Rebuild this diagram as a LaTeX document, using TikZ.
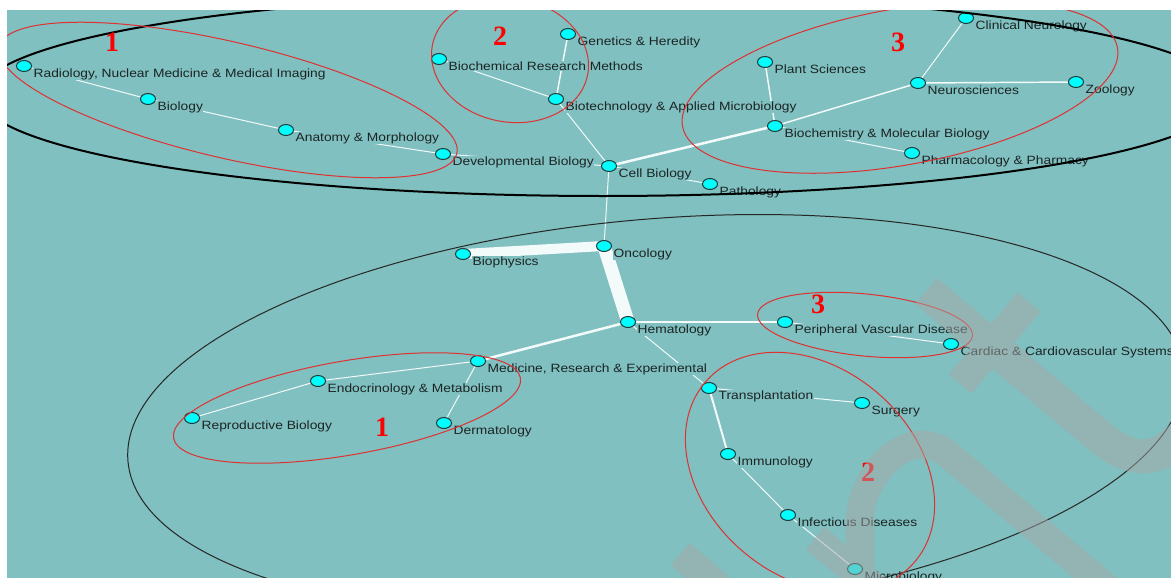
\documentclass[tikz,border=0pt]{standalone}
\usepackage{fontspec}
\setmainfont{Liberation Sans}
\newfontfamily\lblfont[FakeStretch=1.15]{Liberation Sans}
\newfontfamily\numfont{Liberation Serif}
\usetikzlibrary{shapes.geometric}

\definecolor{bgteal}{RGB}{128,192,192}
\definecolor{topicfill}{RGB}{0,255,255}
\definecolor{topicline}{RGB}{30,60,60}
\definecolor{labeltext}{RGB}{28,36,36}
\definecolor{ringred}{RGB}{224,48,48}
\definecolor{numred}{RGB}{255,0,0}
\definecolor{wmgray}{RGB}{168,168,168}
\definecolor{linkwhite}{RGB}{242,250,250}

\pgfdeclarelayer{back}
\pgfdeclarelayer{links}
\pgfsetlayers{back,links,main}

\tikzset{
  topic/.style={ellipse, draw=topicline, line width=0.75pt, fill=topicfill,
    minimum width=11.25pt, minimum height=8.25pt, inner sep=0pt},
  lbl/.style={anchor=base west, fill=bgteal, inner sep=0.3pt, text=labeltext,
    font=\lblfont\fontsize{9}{10}\selectfont},
  link/.style={draw=linkwhite, line width=0.75pt},
  num/.style={text=numred, inner sep=0pt,
    font=\numfont\bfseries\fontsize{21}{21}\selectfont},
  ring/.style={draw=ringred, line width=0.75pt},
  hull/.style={draw=black, line width=1.5pt}
}

\begin{document}
\begin{tikzpicture}[x=0.75pt, y=-0.75pt]
    \begin{pgfonlayer}{back}
        \fill[white] (0,0) rectangle (1171,578);
        \fill[bgteal] (7,10) rectangle (1171,578);
    \end{pgfonlayer}
    \useasboundingbox (0,0) rectangle (1171,578);

    \begin{scope}
    \clip (7,10) rectangle (1171,578);

    % Upper group
    \node (radiology) [topic] at (24,66) {};
    \node (biology) [topic] at (148,99) {};
    \node (anatomy) [topic] at (286,130) {};
    \node (develop) [topic] at (443,154) {};
    \node (biochemres) [topic] at (439,59) {};
    \node (genetics) [topic] at (568,34) {};
    \node (biotech) [topic] at (556,99) {};
    \node (cellbio) [topic] at (609,166) {};
    \node (pathology) [topic] at (710,184) {};
    \node (plantsci) [topic] at (765,62) {};
    \node (biochemmol) [topic] at (775,126) {};
    \node (clinneuro) [topic] at (966,18) {};
    \node (neuro) [topic] at (918,83) {};
    \node (zoology) [topic] at (1076,82) {};
    \node (pharma) [topic] at (912,153) {};

    % Lower group
    \node (oncology) [topic] at (604,246) {};
    \node (biophysics) [topic] at (463,254) {};
    \node (hematology) [topic] at (628,322) {};
    \node (peripheral) [topic] at (785,322) {};
    \node (cardiac) [topic] at (951,344) {};
    \node (medicine) [topic] at (478,361) {};
    \node (endocrin) [topic] at (318,381) {};
    \node (reproduct) [topic] at (192,418) {};
    \node (dermato) [topic] at (444,423) {};
    \node (transplant) [topic] at (709,388) {};
    \node (surgery) [topic] at (862,403) {};
    \node (immuno) [topic] at (728,454) {};
    \node (infectious) [topic] at (788,515) {};
    \node (microbio) [topic] at (855,569) {};

    % Labels
    \node (radiologyT) [lbl] at ([shift={(9,11)}]radiology.center) {Radiology, Nuclear Medicine \& Medical Imaging};
    \node (biologyT) [lbl] at ([shift={(9,11)}]biology.center) {Biology};
    \node (anatomyT) [lbl] at ([shift={(9,11)}]anatomy.center) {Anatomy \& Morphology};
    \node (developT) [lbl] at ([shift={(9,11)}]develop.center) {Developmental Biology};
    \node (biochemresT) [lbl] at ([shift={(9,11)}]biochemres.center) {Biochemical Research Methods};
    \node (geneticsT) [lbl] at ([shift={(9,11)}]genetics.center) {Genetics \& Heredity};
    \node (biotechT) [lbl] at ([shift={(9,11)}]biotech.center) {Biotechnology \& Applied Microbiology};
    \node (cellbioT) [lbl] at ([shift={(9,11)}]cellbio.center) {Cell Biology};
    \node (pathologyT) [lbl] at ([shift={(9,11)}]pathology.center) {Pathology};
    \node (plantsciT) [lbl] at ([shift={(9,11)}]plantsci.center) {Plant Sciences};
    \node (biochemmolT) [lbl] at ([shift={(9,11)}]biochemmol.center) {Biochemistry \& Molecular Biology};
    \node (clinneuroT) [lbl] at ([shift={(9,11)}]clinneuro.center) {Clinical Neurology};
    \node (neuroT) [lbl] at ([shift={(9,11)}]neuro.center) {Neurosciences};
    \node (zoologyT) [lbl] at ([shift={(9,11)}]zoology.center) {Zoology};
    \node (pharmaT) [lbl] at ([shift={(9,11)}]pharma.center) {Pharmacology \& Pharmacy};
    \node (oncologyT) [lbl] at ([shift={(9,11)}]oncology.center) {Oncology};
    \node (biophysicsT) [lbl] at ([shift={(9,11)}]biophysics.center) {Biophysics};
    \node (hematologyT) [lbl] at ([shift={(9,11)}]hematology.center) {Hematology};
    \node (peripheralT) [lbl] at ([shift={(9,11)}]peripheral.center) {Peripheral Vascular Disease};
    \node (cardiacT) [lbl] at ([shift={(9,11)}]cardiac.center) {Cardiac \& Cardiovascular Systems};
    \node (medicineT) [lbl] at ([shift={(9,11)}]medicine.center) {Medicine, Research \& Experimental};
    \node (endocrinT) [lbl] at ([shift={(9,11)}]endocrin.center) {Endocrinology \& Metabolism};
    \node (reproductT) [lbl] at ([shift={(9,11)}]reproduct.center) {Reproductive Biology};
    \node (dermatoT) [lbl] at ([shift={(9,11)}]dermato.center) {Dermatology};
    \node (transplantT) [lbl] at ([shift={(9,11)}]transplant.center) {Transplantation};
    \node (surgeryT) [lbl] at ([shift={(9,11)}]surgery.center) {Surgery};
    \node (immunoT) [lbl] at ([shift={(9,11)}]immuno.center) {Immunology};
    \node (infectiousT) [lbl] at ([shift={(9,11)}]infectious.center) {Infectious Diseases};
    \node (microbioT) [lbl] at ([shift={(9,11)}]microbio.center) {Microbiology};

    % Cluster outlines
    \draw[hull] (603,95) ellipse [x radius=624, y radius=101];
    \draw[draw=black!85, line width=0.75pt, rotate around={4.9:(656,416)}] (656,416) ellipse [x radius=530, y radius=197];
    \draw[ring, rotate around={-13.15:(228,100)}] (228,100) ellipse [x radius=235, y radius=58];
    \draw[ring, rotate around={-10.5:(510,60)}] (510,60) ellipse [x radius=79, y radius=62];
    \draw[ring, rotate around={10.25:(900,87)}] (900,87) ellipse [x radius=221, y radius=78];
    \draw[ring, rotate around={9.85:(347,408)}] (347,408) ellipse [x radius=176, y radius=47];
    \draw[ring, rotate around={-5.77:(865,325)}] (865,325) ellipse [x radius=108, y radius=31];
    \draw[ring, rotate around={-40.8:(810,472)}] (810,472) ellipse [x radius=138, y radius=104];

    % Cluster numbers
    \node (numA) [num] at (112,42) {1};
    \node (numB) [num] at (500,36) {2};
    \node (numC) [num] at (898,42) {3};
    \node (numD) [num] at (818,304) {3};
    \node (numE) [num] at (382,427) {1};
    \node (numF) [num] at (868,472) {2};

    % Watermark
    \begin{scope}[transparency group, opacity=0.5]
        \draw[wmgray, line width=25.5pt] (926,291) -- (1100,437) .. controls (1135,466) and (1160,462) .. (1190,428);
        \draw[wmgray, line width=22.5pt] (960,384) -- (1029,302);
        \draw[wmgray, line width=21pt] (860,600) -- (860,520) .. controls (860,478) and (905,425) .. (945,452) -- (1110,590);
        \draw[wmgray, line width=22pt] (815,538) -- (890,601);
        \draw[wmgray, line width=22pt] (680,554) -- (720,588);
    \end{scope}
    \end{scope}

    % Links
    \begin{pgfonlayer}{links}
        \draw[link] (radiology.center) -- (biology.center);
        \draw[link] (biology.center) -- (anatomy.center);
        \draw[link] (anatomy.center) -- (develop.center);
        \draw[link] (develop.center) -- (cellbio.center);
        \draw[link] (biochemres.center) -- (biotech.center);
        \draw[link, line width=1.1pt] (genetics.center) -- (biotech.center);
        \draw[link] (biotech.center) -- (cellbio.center);
        \draw[link] (cellbio.center) -- (pathology.center);
        \draw[link, line width=1.9pt] (cellbio.center) -- (biochemmol.center);
        \draw[link] (cellbio.center) -- (oncology.center);
        \draw[link, line width=1.1pt] (plantsci.center) -- (biochemmol.center);
        \draw[link, line width=1.1pt] (biochemmol.center) -- (neuro.center);
        \draw[link] (biochemmol.center) -- (pharma.center);
        \draw[link] (neuro.center) -- (clinneuro.center);
        \draw[link, line width=1.1pt] (neuro.center) -- (zoology.center);
        \draw[link, line width=7.5pt] (biophysics.center) -- (oncology.center);
        \draw[link, line width=10pt] (oncology.center) -- (hematology.center);
        \draw[link, line width=1.9pt] (hematology.center) -- (medicine.center);
        \draw[link, line width=1.1pt] (hematology.center) -- (peripheral.center);
        \draw[link] (hematology.center) -- (transplant.center);
        \draw[link] (peripheral.center) -- (cardiac.center);
        \draw[link] (medicine.center) -- (endocrin.center);
        \draw[link] (endocrin.center) -- (reproduct.center);
        \draw[link] (medicine.center) -- (dermato.center);
        \draw[link] (transplant.center) -- (surgery.center);
        \draw[link, line width=1.5pt] (transplant.center) -- (immuno.center);
        \draw[link] (immuno.center) -- (infectious.center);
        \draw[link] (infectious.center) -- (microbio.center);
    \end{pgfonlayer}
\end{tikzpicture}
\end{document}
